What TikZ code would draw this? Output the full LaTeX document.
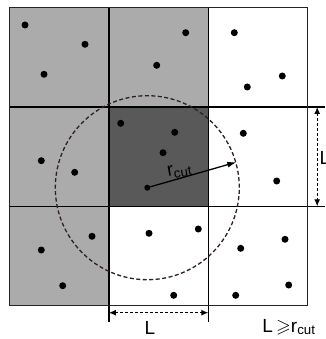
\documentclass[tikz,border=0pt]{standalone}
\usepackage{amssymb}
\usepackage{fontspec}
\setmainfont{Liberation Sans}
\usetikzlibrary{arrows.meta,calc}
\definecolor{lightcell}{HTML}{ABABAB}
\definecolor{darkcell}{HTML}{595959}
\definecolor{framecol}{HTML}{2F2020}

\begin{document}
\begin{tikzpicture}[x=1pt, y=-1pt,
  cell/.style={draw, line width=1.4pt, minimum size=99.4pt, inner sep=0pt, outer sep=0pt},
  dot/.style={circle, fill=black, inner sep=0pt, minimum size=7pt},
  dim/.style={{Latex[length=7pt,width=6pt]}-{Latex[length=7pt,width=6pt]},
              dash pattern=on 3pt off 2pt, line width=1.1pt},
  lbl/.style={font=\fontsize{19}{21}\selectfont, inner sep=0pt},
]
  \useasboundingbox (0,0) rectangle (325,339);

  % cells of the grid
  \node[cell, fill=lightcell] (c11) at (59.2,57.2) {};
  \node[cell, fill=lightcell] (c12) at (158.6,57.2) {};
  \node[cell, fill=white]     (c13) at (258.0,57.2) {};
  \node[cell, fill=lightcell] (c21) at (59.2,156.6) {};
  \node[cell, fill=darkcell]  (c22) at (158.6,156.6) {};
  \node[cell, fill=white]     (c23) at (258.0,156.6) {};
  \node[cell, fill=lightcell] (c31) at (59.2,256.0) {};
  \node[cell, fill=white]     (c32) at (158.6,256.0) {};
  \node[cell, fill=white]     (c33) at (258.0,256.0) {};
  \draw[framecol, line width=1.5pt] (c11.north west) rectangle (c33.south east);

  % particles
  \foreach \x/\y [count=\i] in {25/25, 85/44.3, 44/74.3, 185.7/32.7, 156.7/65.3,
      234.3/32.7, 282.3/76, 247.3/87, 41.3/160.7, 74.7/172.3,
      120.7/123.3, 174.7/132.3, 163/152.7, 243.3/133.3, 276.7/181,
      92/236.3, 41.3/250, 62.7/285.7, 149/233.3, 198.3/229, 173.7/295.3,
      240.7/248.3, 285/239.3, 288.7/285, 235.7/295.3}
    \node[dot] (p\i) at (\x,\y) {};
  \node[dot, minimum size=6pt] (ctr) at (147.3,187.7) {};

  % cutoff sphere
  \node[draw=framecol, circle, minimum size=184pt, line width=1.3pt,
        dash pattern=on 4pt off 2.5pt, inner sep=0pt] (range) at (ctr) {};
  \draw[-{Latex[length=9pt,width=6pt]}, line width=1.3pt] (ctr) -- (range.16);
  \node[lbl, rotate=10] (rc) at (179.5,171) {r\textsubscript{cut}};

  % cell size L, bottom
  \coordinate (b1) at ($(c32.south west)+(0,16)$);
  \coordinate (b2) at ($(c32.south east)+(0,16)$);
  \draw[line width=1.4pt] (c32.south west) -- (b1);
  \draw[line width=1.4pt] (c32.south east) -- (b2);
  \draw[dim] ($(b1)+(0,-9)$) -- ($(b2)+(0,-9)$);
  \node[lbl] (lb) at (150,328) {L};

  % cell size L, right
  \coordinate (r1) at ($(c23.north east)+(17,0)$);
  \coordinate (r2) at ($(c23.south east)+(17,0)$);
  \draw[line width=1.4pt] (c23.north east) -- (r1);
  \draw[line width=1.4pt] (c23.south east) -- (r2);
  \draw[dim] ($(r1)+(-7.5,0)$) -- ($(r2)+(-7.5,0)$);
  \node[lbl, anchor=west] (lr) at (319.5,158) {L};

  \node[lbl] (cond) at (289,327) {L\,$\geqslant$r\textsubscript{cut}};
\end{tikzpicture}
\end{document}
